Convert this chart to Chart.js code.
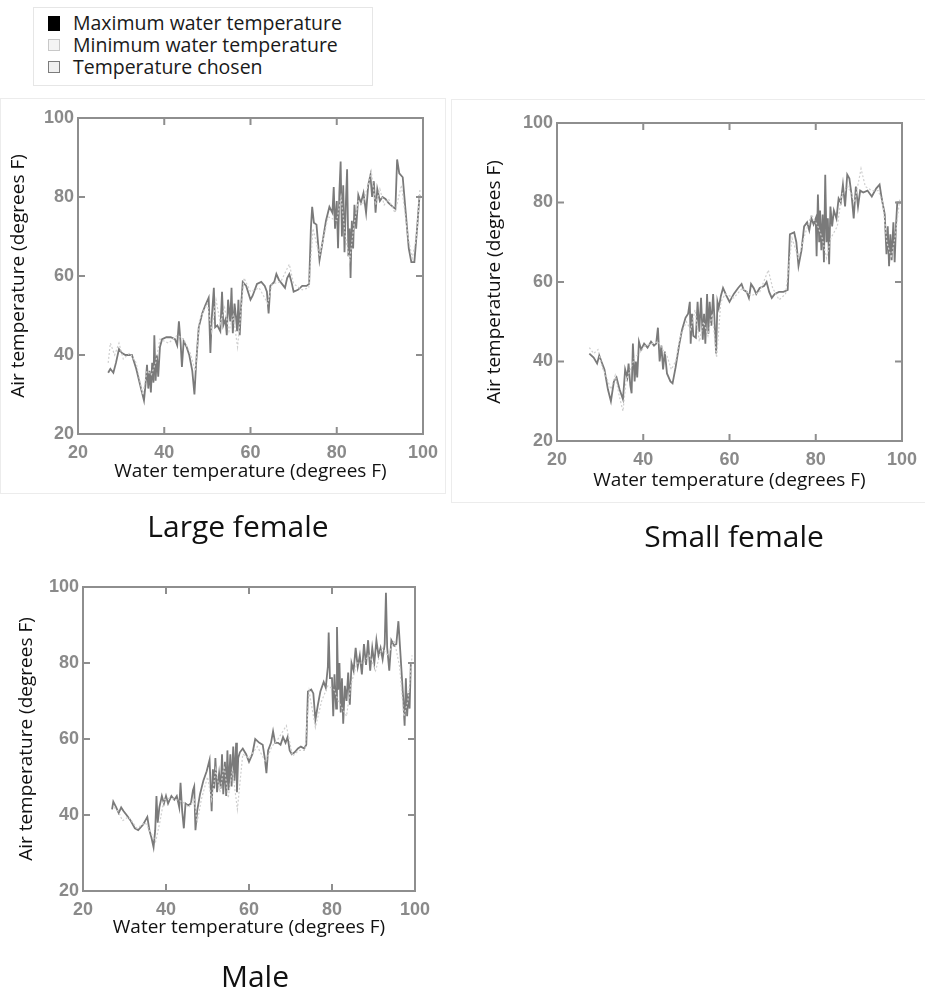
<!DOCTYPE html>
<html lang="en">
<head>
<meta charset="utf-8">
<script src="https://cdn.jsdelivr.net/npm/chart.js@4.4.1/dist/chart.umd.min.js"></script>
<style>
  body { margin: 0; background: #fff; overflow: hidden; font-family: 'Open Sans', sans-serif; }
  canvas { position: absolute; }
  .box { position: absolute; border: 1px solid #ececec; }
  #legend { position: absolute; left: 33px; top: 7px; width: 338px; height: 77px; border: 1px solid #e6e6e6; }
  .item { position: absolute; left: 14px; font-size: 19.5px; color: #1a1a1a; line-height: 22px; white-space: nowrap; }
  .item span { display: inline-block; width: 10px; height: 10px; margin-right: 13px; vertical-align: 1px; }
</style>
</head>
<body>
<div id="legend">
  <div class="item" style="top:4px"><span style="background:#000;border:1px solid #000;height:13px;vertical-align:-1px"></span>Maximum water temperature</div>
  <div class="item" style="top:26px"><span style="background:#f4f4f4;border:1px solid #c8c8c8"></span>Minimum water temperature</div>
  <div class="item" style="top:48px"><span style="background:#f0f0f0;border:1px solid #7c7c7c"></span>Temperature chosen</div>
</div>
<div class="box" style="left:0;top:98px;width:444px;height:394px"></div>
<div class="box" style="left:451px;top:99px;width:474px;height:402px"></div>
<canvas id="large" width="476" height="455" style="left:0;top:98px"></canvas>
<canvas id="small" width="568" height="470" style="left:450px;top:99px"></canvas>
<canvas id="male" width="510" height="437" style="left:0;top:560px"></canvas>
<script>
// tick values shared by all three panels
var xTicks = [20, 40, 60, 80, 100];
var yTicks = [20, 40, 60, 80, 100];

// Large female: [water temperature, air temperature]
var largeChosen = [[27.0,35.5],[27.5,36.5],[28.2,35.5],[28.8,38],[29.5,41.5],[30.2,40.5],[31,40],[32.5,40],[33.5,36.5],[34.5,32],[35.3,28.5],[35.7,33],[36.0,37.5],[36.3,31.5],[36.6,36],[36.9,30.5],[37.2,38],[37.5,33],[37.7,45],[38.0,33.5],[38.3,40],[38.6,34.5],[39.0,42],[39.5,44],[40.5,44.5],[41.5,44.5],[42.5,44],[43.0,42.5],[43.4,48.5],[43.8,43],[44.1,37],[44.5,43.5],[45.2,42],[45.8,40],[46.5,36],[47.0,30],[47.4,38],[48.0,47],[48.8,50.5],[49.5,52.5],[50.3,54.5],[50.7,40.5],[51.0,49],[51.5,57],[51.8,47],[52.3,47.5],[53.0,46],[53.4,56],[53.7,47.5],[54.2,49],[54.5,45],[54.8,54],[55.3,48.5],[55.6,57],[55.9,45.5],[56.3,53],[56.6,50],[56.9,46],[57.2,54],[57.5,45],[57.8,52],[58.2,58.5],[59.0,57.5],[60.0,54],[60.5,55],[61.5,58],[62.5,58.5],[63.3,57.5],[63.8,56],[64.2,50.5],[64.6,57.5],[65.5,58.5],[66.0,60.5],[66.6,59],[67.3,58],[68.0,57],[68.5,59.5],[69.0,60.5],[69.5,58.5],[70.0,56],[71.0,56.5],[72.0,57.5],[73.0,57.5],[73.6,58],[74.0,72],[74.3,77.5],[74.7,73.5],[75.3,73],[76.0,64],[76.7,68.5],[77.5,74],[78.3,77.5],[79.0,76],[79.3,82.5],[79.6,72],[80.0,79],[80.3,67],[80.6,81],[80.9,89],[81.2,70],[81.5,83],[81.8,66],[82.1,78],[82.4,87],[82.7,65],[83.0,72],[83.2,59.5],[83.5,74],[83.8,67],[84.1,78],[84.5,72],[85.0,80.5],[85.6,78.5],[86.2,81],[86.8,76],[87.3,83],[87.8,85.5],[88.2,80],[88.6,84],[89.0,76],[89.4,82],[90.0,79],[90.6,80],[91.3,79.5],[92.0,78.5],[93.0,77.5],[93.6,77],[94.0,89.5],[94.5,86],[95.3,85],[96.0,76],[96.7,67],[97.3,63.5],[98.0,63.5],[98.7,73],[99.2,80.5]];
var largeMinimum = [[27,38],[27.5,43],[28.5,40],[29.5,43],[30.5,39],[32,40.5],[33.5,38],[35,30],[36,36],[37,35],[38,38],[39,44],[41,43],[43,45],[44.5,44],[46,40.5],[47.2,36],[48.2,49],[50,53],[51,46],[52,54],[53,48],[54,52],[55,46],[56,50],[57,42],[58.5,59.5],[60,56],[62,57],[64,53],[65,58],[67,58.5],[69,63],[70,58],[72,56.5],[73.5,57],[74.5,72],[76,65],[78,75],[80,74],[81,80],[82,70],[83,64],[84,73],[85,79],[86,78],[87,82],[88,86.5],[89,78],[90,82],[91,78],[92,79.5],[93.5,76],[95,83],[96.5,70],[97.5,64.5],[98.5,70],[99.3,82]];

// Small female
var smallChosen = [[27.5,42],[28.5,41],[29.3,39.5],[29.8,41.5],[30.3,40],[31,38],[31.8,33],[32.5,30],[33.2,35],[33.8,36],[34.5,33],[35.3,30.5],[35.8,38],[36.3,36],[36.6,39.5],[37,34],[37.3,32],[37.6,44.5],[38,35],[38.3,40],[38.6,36],[39.0,45],[39.5,43],[40.2,44.5],[41,43.5],[41.8,45],[42.5,44],[43,44.5],[43.4,48.5],[43.8,40],[44.2,44],[44.6,38],[45.0,42.5],[45.5,37],[46.3,35],[46.8,34.5],[47.5,38.5],[48.3,44],[49.0,48],[49.8,51],[50.4,52],[50.8,55],[51.0,44.5],[51.3,52],[51.6,46.5],[52.2,46],[52.6,55],[53.0,47.5],[53.4,56],[53.8,45.5],[54.1,52],[54.4,44.5],[54.8,57],[55.1,47],[55.4,55],[55.8,49],[56.2,57],[56.5,51],[56.9,42],[57.2,55],[57.5,53.5],[58.0,56.5],[58.5,58.5],[59.3,56.5],[60.0,55],[61.0,57],[62.0,58.5],[62.8,59.5],[63.3,58],[64.0,57.5],[64.5,56],[65.0,59.5],[65.6,58.5],[66.2,57],[67.0,58.5],[68.0,59],[68.6,60],[69.2,57.5],[69.8,56],[70.5,57],[71.5,57.5],[72.5,57.5],[73.5,58],[74.0,72],[75.0,72.5],[75.5,70],[76.0,64],[76.7,68],[77.3,74],[78.0,75],[78.5,73],[79.0,76],[79.5,74.5],[80.0,76],[80.2,66.5],[80.5,82],[80.8,70],[81.0,78],[81.3,68],[81.6,77],[81.9,65],[82.2,87],[82.5,70],[82.8,76],[83.1,64.5],[83.4,79],[83.8,74],[84.2,78],[84.8,76],[85.3,81],[85.8,80],[86.3,84.5],[86.8,79],[87.3,87],[87.8,86],[88.3,82],[88.8,76],[89.3,84],[89.8,79],[90.3,83],[91.0,82.5],[92.0,83],[93.0,81.5],[94.0,83.5],[94.8,84.5],[95.3,81],[96.0,77],[96.4,67],[96.7,74],[97.0,64],[97.3,72],[97.6,65.5],[98.0,75],[98.3,65],[98.6,74],[98.9,80],[99.5,80],[99.8,80]];
var smallMinimum = [[27.5,43.5],[28.5,42],[29.5,43],[30.5,38.5],[31.5,36],[32.5,33],[33.5,36.5],[34.5,31],[35.3,27.5],[36,35],[37,38],[38,41],[39,42],[40.5,44],[42,44.5],[43.5,45],[44.5,43],[45.5,41.5],[46.5,38],[47.5,40],[48.5,46],[50,50],[51,48],[52,53],[53,45],[54,50],[55,46.5],[56,52],[57,41],[58,55],[59,57],[61,56],[63,58.5],[65,56.5],[67,57.5],[69,63],[70,58.5],[71.5,55.5],[73,57],[74.5,71],[76,66],[77.5,72],[79,77],[80.5,74],[81.5,71],[82.5,66],[83.5,71],[85,74],[86,82],[87.5,84],[89,80],[90.5,88.5],[91.5,84],[93,83],[94.5,83],[95.5,80],[96.5,70],[97.5,66],[98.5,72],[99.5,81]];

// Male
var maleChosen = [[27.0,41.5],[27.3,43.5],[28,42],[28.6,40.5],[29.2,42],[29.8,41],[30.5,40],[31.5,38.5],[32.5,36.5],[33.3,36],[34.5,37.5],[35.5,39.5],[36.0,36],[36.5,34],[37.0,31.5],[37.4,36],[37.7,45],[38.0,38],[38.4,42],[39.0,45],[39.5,43],[40.0,45],[40.5,43],[41.3,45],[42.0,44],[42.6,45],[43.2,42],[43.5,48.5],[43.9,41],[44.3,36.5],[44.7,43],[45.3,42.5],[46.0,43],[46.5,46.5],[46.8,47.5],[47.1,36],[47.5,41],[48.2,45.5],[49.0,49],[49.8,51.5],[50.5,54.5],[51.0,41],[51.3,52],[51.6,47],[51.9,55],[52.3,46],[52.8,51],[53.2,47],[53.5,56],[53.8,45.5],[54.2,54],[54.5,45],[54.8,57],[55.1,46.5],[55.5,56],[55.8,47.5],[56.2,58],[56.5,49],[56.9,59],[57.1,46],[57.4,55],[57.8,56.5],[58.5,57.5],[59.3,56],[60.0,54],[60.8,56],[61.5,60],[62.5,59],[63.3,58.5],[63.8,55],[64.2,51],[64.6,57],[65.3,59],[65.8,62],[66.3,59],[67.0,59],[67.6,58.5],[68.2,60.5],[68.8,59],[69.3,60.5],[69.8,57],[70.3,56],[71.0,56.5],[71.8,57.5],[72.5,58],[73.3,57.5],[73.8,58.5],[74.2,72.5],[75.0,73],[75.5,72],[76.0,65],[76.6,69],[77.2,72.5],[78.0,75],[78.5,73.5],[79.0,79],[79.2,88],[79.5,76],[80.0,76],[80.3,66],[80.6,77],[81.0,68],[81.2,89.5],[81.5,73],[81.8,80],[82.1,67],[82.4,76],[82.7,64],[83.1,74],[83.5,70],[83.9,77.5],[84.3,69],[84.7,80],[85.2,78],[85.7,84],[86.2,79],[86.7,82],[87.2,77],[87.7,85],[88.2,79.5],[88.7,86],[89.2,78],[89.7,84],[90.2,80],[90.7,86],[91.2,82],[91.7,84],[92.2,81],[92.7,85],[93.0,98.5],[93.3,84],[93.8,78],[94.3,86],[95.0,84.5],[95.5,85],[96.0,91],[96.4,84],[96.8,77],[97.2,70],[97.5,63.5],[97.8,76],[98.1,66],[98.4,72],[98.7,68],[99.0,80],[99.6,80],[100,80]];
var maleMinimum = [[27.5,42],[28.5,41],[29.5,38.5],[31,39.5],[33,36.5],[35,38],[36.5,35],[37.5,33],[38.5,38],[39.5,44],[41,44.5],[42.5,44],[44,43.5],[45.5,42],[46.8,44],[47.5,38],[48.5,44],[50,50],[51,44],[52,52],[53,46],[54,53],[55,44.5],[56,52],[57.2,41.5],[58.5,56],[60,55],[62,58],[64,54],[65.5,58],[67,60],[69,63.5],[70.5,55.5],[72,57],[73.5,57],[74.5,72.5],[76,63],[77.5,70],[79,74],[80.5,73],[81.5,70],[82.5,68],[83.5,66],[84.5,74],[86,80],[87.5,80],[89,82],[90.5,78],[92,84],[93.5,82],[95,86],[96.3,79],[97.3,66],[98.3,70],[99.3,82]];

function toXY(pairs) {
  return pairs.map(function (p) { return {x: p[0], y: p[1]}; });
}

// box around the plot with inward ticks on all four sides
var frame = {
  id: 'frame',
  afterDatasetsDraw: function (chart) {
    var ctx = chart.ctx, a = chart.chartArea, x = chart.scales.x, y = chart.scales.y;
    ctx.save();
    ctx.strokeStyle = '#8e8e8e';
    ctx.lineWidth = 2;
    ctx.strokeRect(a.left, a.top, a.right - a.left, a.bottom - a.top);
    ctx.beginPath();
    xTicks.slice(1, -1).forEach(function (v) {
      var px = x.getPixelForValue(v);
      ctx.moveTo(px, a.bottom); ctx.lineTo(px, a.bottom - 7);
      ctx.moveTo(px, a.top); ctx.lineTo(px, a.top + 7);
    });
    yTicks.slice(1, -1).forEach(function (v) {
      var py = y.getPixelForValue(v);
      ctx.moveTo(a.left, py); ctx.lineTo(a.left + 7, py);
      ctx.moveTo(a.right, py); ctx.lineTo(a.right - 7, py);
    });
    ctx.stroke();
    ctx.restore();
  }
};

var tickFont = {family: 'Liberation Sans', size: 18, weight: 'bold'};
var titleFont = {family: 'Open Sans', size: 19};

function makeChart(id, caption, chosen, minimum, o) {
  new Chart(document.getElementById(id), {
    type: 'scatter',
    data: {
      datasets: [
        {label: 'Minimum water temperature', data: toXY(minimum), showLine: true,
         borderColor: '#cfcfcf', borderWidth: 1.2, borderDash: [2, 2], pointRadius: 0},
        {label: 'Temperature chosen', data: toXY(chosen), showLine: true,
         borderColor: '#7a7a7a', borderWidth: 1.8, pointRadius: 0}
      ]
    },
    options: {
      responsive: false,
      animation: false,
      layout: {padding: {top: o.padTop, right: 0, left: 0, bottom: 0}},
      plugins: {
        legend: {display: false},
        tooltip: {enabled: false},
        title: {display: true, text: caption, position: 'bottom',
                color: '#111', font: {family: 'Open Sans', size: 30, weight: 'normal'},
                padding: {top: o.capTop, bottom: o.capBottom}}
      },
      scales: {
        x: {
          type: 'linear', min: 20, max: 100,
          afterBuildTicks: function (s) { s.ticks = xTicks.map(function (v) { return {value: v}; }); },
          afterFit: function (s) { s.height = 59; },
          grid: {display: false, drawTicks: false},
          border: {display: false},
          ticks: {font: tickFont, color: '#8a8a8a', padding: 8, maxRotation: 0},
          title: {display: true, text: 'Water temperature (degrees F)', color: '#111',
                  font: titleFont, padding: {top: 0, bottom: o.xTitlePad}}
        },
        y: {
          type: 'linear', min: 20, max: 100,
          afterBuildTicks: function (s) { s.ticks = yTicks.map(function (v) { return {value: v}; }); },
          afterFit: function (s) { s.width = o.yWidth; },
          grid: {display: false, drawTicks: false},
          border: {display: false},
          ticks: {font: tickFont, color: '#8a8a8a', padding: 4},
          title: {display: true, text: 'Air temperature (degrees F)', color: '#111',
                  font: titleFont, padding: {top: o.yTitlePad, bottom: 0}}
        },
        // empty right-hand gap so the caption centres where the original sits
        gap: {
          type: 'linear', position: 'right', display: true,
          grid: {display: false}, border: {display: false}, ticks: {display: false},
          afterFit: function (s) { s.width = o.rightGap; }
        }
      }
    },
    plugins: [frame]
  });
}

makeChart('large', 'Large female', largeChosen, largeMinimum,
  {padTop: 20, rightGap: 53, yWidth: 78, capTop: 17, capBottom: 7, xTitlePad: 9.6, yTitlePad: 7.6});
makeChart('small', 'Small female', smallChosen, smallMinimum,
  {padTop: 24, rightGap: 116, yWidth: 107, capTop: 20, capBottom: 13, xTitlePad: 7.6, yTitlePad: 33.6});
makeChart('male', 'Male', maleChosen, maleMinimum,
  {padTop: 27, rightGap: 95, yWidth: 83, capTop: 10, capBottom: 1, xTitlePad: 10.6, yTitlePad: 15.6});
</script>
</body>
</html>
